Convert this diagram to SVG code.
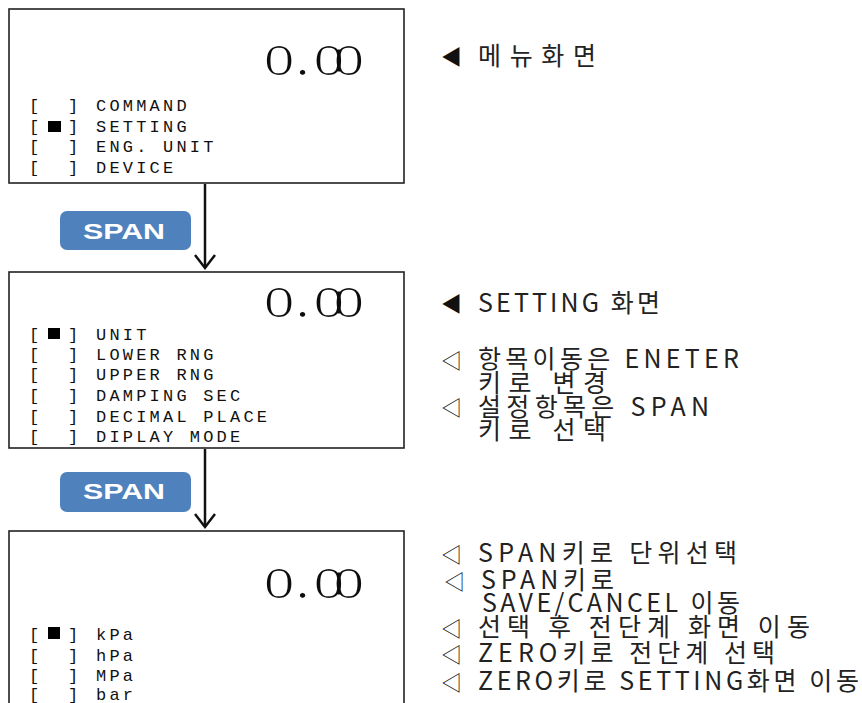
<svg xmlns="http://www.w3.org/2000/svg" width="862" height="703" viewBox="0 0 862 703">
<style>
.box{fill:#fff;stroke:#222;stroke-width:1.6}
.mono{font-family:"Liberation Mono","DejaVu Sans Mono",monospace;font-size:17px;letter-spacing:3.2px;fill:#111}
.big{font-family:"Liberation Serif","DejaVu Serif",serif;font-size:44px;fill:#111;filter:url(#thin)}
.note{font-family:"Noto Sans CJK KR",sans-serif;font-size:25px;fill:#222}
.tri{font-family:"Noto Sans CJK KR","DejaVu Sans",sans-serif;font-size:21px;fill:#111}
.btn{fill:#4F81BD}
.btnt{font-family:"Liberation Sans","DejaVu Sans",sans-serif;font-size:22px;font-weight:bold;fill:#fff}
.conn{stroke:#111;stroke-width:2.5;fill:none}
.sq{fill:#000}
</style>
<defs>
  <filter id="thin" x="-10%" y="-10%" width="120%" height="120%">
    <feMorphology operator="erode" radius="0.9 0.2"/>
  </filter>
</defs>
<rect width="862" height="703" fill="#fff"/>

<g id="connectors">
  <line class="conn" x1="205" y1="184" x2="205" y2="268"/>
  <polyline class="conn" points="195,255 205,268 215,255"/>
  <line class="conn" x1="205" y1="449" x2="205" y2="527"/>
  <polyline class="conn" points="195,514 205,527 215,514"/>
</g>

<g id="screen-menu">
  <rect class="box" x="9" y="9" width="395" height="174"/>
  <text class="big" transform="translate(265,75) scale(1.42,1)"><tspan x="-1 21 34 48">0.00</tspan></text>
  <text class="mono" x="29" y="111">[</text><text class="mono" x="68" y="111">]</text><text class="mono" x="96" y="111">COMMAND</text>
  <text class="mono" x="29" y="132">[</text><rect class="sq" x="48" y="121" width="13" height="11"/><text class="mono" x="68" y="132">]</text><text class="mono" x="96" y="132">SETTING</text>
  <text class="mono" x="29" y="152">[</text><text class="mono" x="68" y="152">]</text><text class="mono" x="96" y="152">ENG. UNIT</text>
  <text class="mono" x="29" y="173">[</text><text class="mono" x="68" y="173">]</text><text class="mono" x="96" y="173">DEVICE</text>
</g>

<g id="btn-span-1">
  <rect class="btn" x="60" y="211" width="131" height="39" rx="7"/>
  <text class="btnt" x="83" y="239" textLength="82" lengthAdjust="spacingAndGlyphs">SPAN</text>
</g>

<g id="screen-setting">
  <rect class="box" x="9" y="272" width="395" height="176"/>
  <text class="big" transform="translate(265,317) scale(1.42,1)"><tspan x="-1 21 34 48">0.00</tspan></text>
  <text class="mono" x="29" y="340">[</text><rect class="sq" x="48" y="328" width="12" height="11"/><text class="mono" x="68" y="340">]</text><text class="mono" x="96" y="340">UNIT</text>
  <text class="mono" x="29" y="360">[</text><text class="mono" x="68" y="360">]</text><text class="mono" x="96" y="360">LOWER RNG</text>
  <text class="mono" x="29" y="380">[</text><text class="mono" x="68" y="380">]</text><text class="mono" x="96" y="380">UPPER RNG</text>
  <text class="mono" x="29" y="401">[</text><text class="mono" x="68" y="401">]</text><text class="mono" x="96" y="401">DAMPING SEC</text>
  <text class="mono" x="29" y="422">[</text><text class="mono" x="68" y="422">]</text><text class="mono" x="96" y="422">DECIMAL PLACE</text>
  <text class="mono" x="29" y="442">[</text><text class="mono" x="68" y="442">]</text><text class="mono" x="96" y="442">DIPLAY MODE</text>
</g>

<g id="btn-span-2">
  <rect class="btn" x="60" y="472" width="131" height="40" rx="7"/>
  <text class="btnt" x="83" y="499" textLength="82" lengthAdjust="spacingAndGlyphs">SPAN</text>
</g>

<g id="screen-unit">
  <rect class="box" x="9" y="531" width="395" height="200"/>
  <text class="big" transform="translate(265,598) scale(1.42,1)"><tspan x="-1 21 34 48">0.00</tspan></text>
  <text class="mono" x="29" y="640">[</text><rect class="sq" x="48" y="627" width="12" height="12"/><text class="mono" x="68" y="640">]</text><text class="mono" x="96" y="640">kPa</text>
  <text class="mono" x="29" y="661">[</text><text class="mono" x="68" y="661">]</text><text class="mono" x="96" y="661">hPa</text>
  <text class="mono" x="29" y="681">[</text><text class="mono" x="68" y="681">]</text><text class="mono" x="96" y="681">MPa</text>
  <text class="mono" x="29" y="700">[</text><text class="mono" x="68" y="700">]</text><text class="mono" x="96" y="700">bar</text>
</g>

<g id="notes-menu">
  <text class="tri" x="441" y="64">◀</text>
  <text class="note" x="478" y="65" textLength="118">메뉴화면</text>
</g>

<g id="notes-setting">
  <text class="tri" x="441" y="311">◀</text>
  <text class="note" x="478" y="312" textLength="182">SETTING 화면</text>
  <text class="tri" x="441" y="368">◁</text>
  <text class="note" x="478" y="368" textLength="261">항목이동은 ENETER</text>
  <text class="note" x="478" y="392" textLength="128">키로 변경</text>
  <text class="tri" x="441" y="415">◁</text>
  <text class="note" x="478" y="416" textLength="231">설정항목은 SPAN</text>
  <text class="note" x="478" y="439" textLength="128">키로 선택</text>
</g>

<g id="notes-unit">
  <text class="tri" x="441" y="562">◁</text>
  <text class="note" x="478" y="562" textLength="259">SPAN키로 단위선택</text>
  <text class="tri" x="444" y="589">◁</text>
  <text class="note" x="481" y="589" textLength="133">SPAN키로</text>
  <text class="note" x="482" y="612" textLength="258">SAVE/CANCEL 이동</text>
  <text class="tri" x="441" y="636">◁</text>
  <text class="note" x="478" y="636" textLength="332">선택 후 전단계 화면 이동</text>
  <text class="tri" x="441" y="662">◁</text>
  <text class="note" x="478" y="662" textLength="297">ZERO키로 전단계 선택</text>
  <text class="tri" x="441" y="690">◁</text>
  <text class="note" x="478" y="690" textLength="381">ZERO키로 SETTING화면 이동</text>
</g>
</svg>
